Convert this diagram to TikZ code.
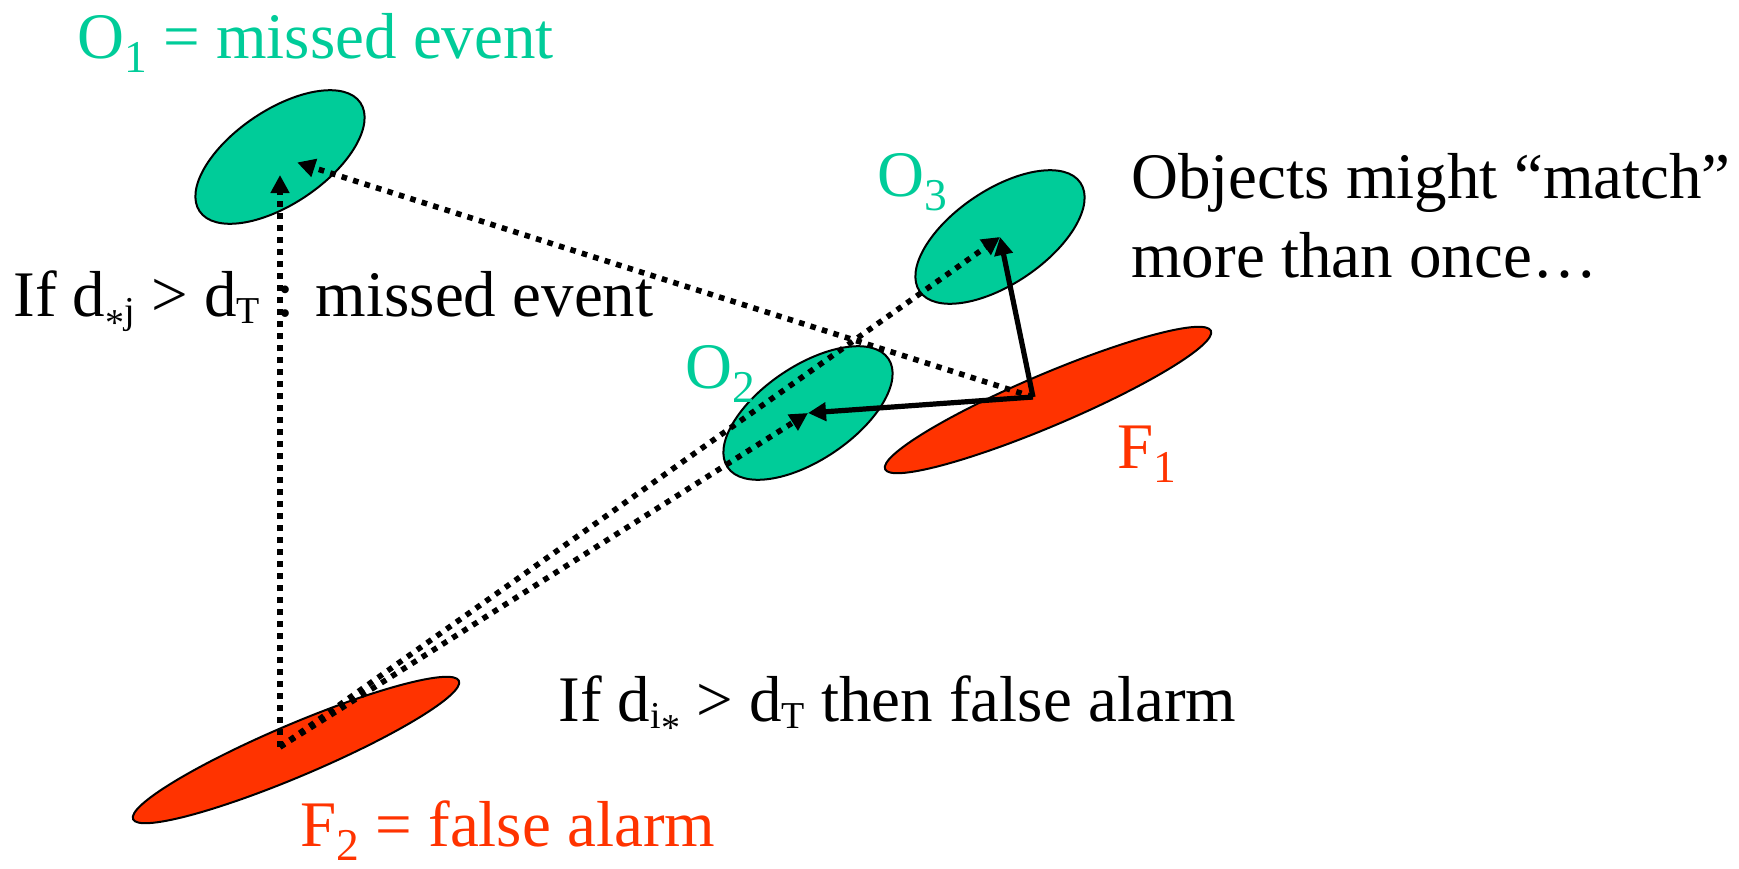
\documentclass[tikz,border=0pt]{standalone}
\usepackage{fontspec}
\setmainfont{Liberation Serif}
\usetikzlibrary{shapes,arrows.meta,positioning}
\definecolor{greencustom}{RGB}{0,204,153}
\definecolor{redcustom}{RGB}{255,51,0}
\newcommand{\lsub}[1]{\raisebox{-0.22em}{\fontsize{22.75}{24}\selectfont #1}}
\newcommand{\dsub}[1]{\raisebox{-0.12em}{\fontsize{19}{21}\selectfont #1}}
\newcommand{\lowstar}{\raisebox{-0.3em}{*}}

\begin{document}
\begin{tikzpicture}[x=0.5pt,y=-0.5pt,
    objblob/.style={ellipse, draw=black, line width=1pt, fill=greencustom, inner sep=0pt, minimum width=97pt, minimum height=47pt, rotate=34},
    fcstblob/.style={ellipse, draw=black, line width=1pt, fill=redcustom, inner sep=0pt, minimum width=177pt, minimum height=26pt, rotate=23},
    dotarrow/.style={line width=2.8pt, dash pattern=on 2.8pt off 3.2pt, -{Triangle[length=9pt,width=9pt]}},
    solidarrow/.style={line width=2.6pt, -{Triangle[length=9pt,width=9pt]}},
    lbl/.style={anchor=base west, inner sep=0pt, font=\fontsize{32.5}{39}\selectfont}]
    \useasboundingbox (0,0) rectangle (1739,868);

    \node[objblob] (O1) at (280,157) {};
    \node[objblob] (O2) at (808,413) {};
    \node[objblob] (O3) at (1000,237) {};
    \node[fcstblob] (F1) at (1048,400) {};
    \node[fcstblob] (F2) at (296,750) {};

    \coordinate (f2p) at (280,747);
    \coordinate (f1p) at (1033,397);

    \draw[dotarrow, shorten >=9pt] (f2p) -- (O1.center);
    \draw[dotarrow, shorten >=9pt] (f1p) -- (O1.center);
    \draw[dotarrow] (f2p) -- (O2.center);
    \draw[dotarrow] (f2p) -- (O3.center);
    \draw[solidarrow] (f1p) -- (O2.center);
    \draw[solidarrow] (f1p) -- (O3.center);

    \node[lbl, text=greencustom] (lblO1) at (77,58) {O\lsub{1} = missed event};
    \node[lbl, text=greencustom] (lblO3) at (877,196) {O\lsub{3}};
    \node[lbl, text=greencustom] (lblO2) at (685,388) {O\lsub{2}};
    \node[lbl, text=redcustom] (lblF1) at (1117,468) {F\lsub{1}};
    \node[lbl, text=redcustom] (lblF2) at (300,846) {F\lsub{2} = false alarm};
    \node[lbl] (matchA) at (1131,198) {Objects might “match”};
    \node[lbl] (matchB) at (1131,277) {more than once…};
    \node[lbl] (missrule) at (13,316) {If d\dsub{\lowstar j} > d\dsub{T} : missed event};
    \node[lbl] (falserule) at (558,721) {If d\dsub{i\lowstar} > d\dsub{T} then false alarm};
\end{tikzpicture}
\end{document}
